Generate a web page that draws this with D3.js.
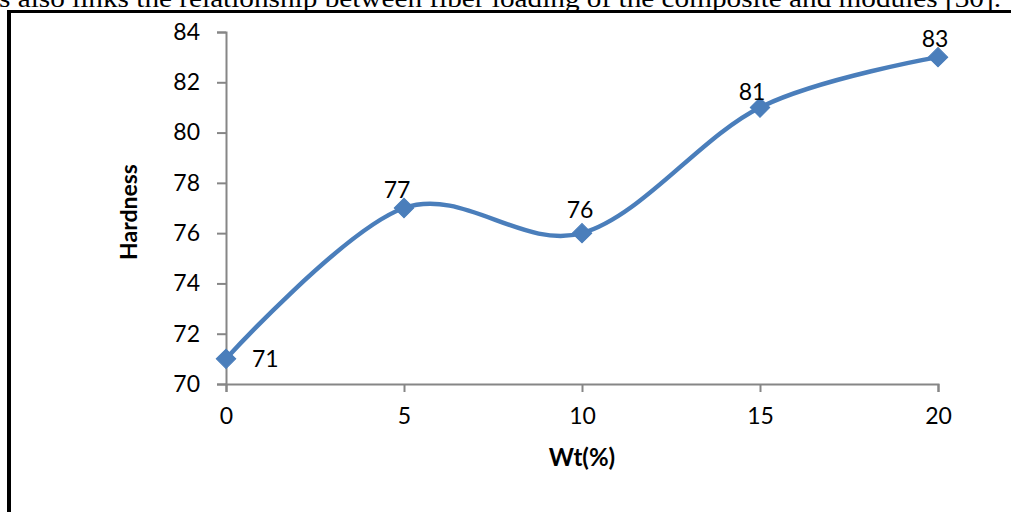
<!DOCTYPE html>
<html>
<head>
<meta charset="utf-8">
<script src="https://cdn.jsdelivr.net/npm/d3@7"></script>
<style>
  html, body { margin: 0; padding: 0; background: #fff; }
  svg { display: block; }
</style>
</head>
<body>
<svg id="chart" width="1011" height="512"></svg>
<script>
// Hardness against fibre weight fraction
const wtPercent = [0, 5, 10, 15, 20];
const hardness = [71, 77, 76, 81, 83];
const xTicks = [0, 5, 10, 15, 20];
const yTicks = [70, 72, 74, 76, 78, 80, 82, 84];
const xTitle = "Wt(%)";
const yTitle = "Hardness";
const bodyText = "s also links the relationship between fiber loading of the composite and modules [30].";

// label placement relative to each point: [dx, dy, anchor]
const labelPlacement = [
  [26, 8, "start"],
  [-7, -10, "middle"],
  [-2, -15, "middle"],
  [-8, -7, "middle"],
  [-3, -10, "middle"]
];

const svg = d3.select("#chart");
const font = "Lato, 'Open Sans', sans-serif";
const axisColor = "#868686";
const lineColor = "#4a7ebb";

// text line of the page above the figure
svg.append("text")
  .attr("x", -1).attr("y", 7)
  .attr("font-family", "'Liberation Serif', 'Times New Roman', serif")
  .attr("font-size", 25)
  .attr("textLength", 1002)
  .attr("lengthAdjust", "spacingAndGlyphs")
  .attr("fill", "#000")
  .text(bodyText);

// figure frame
svg.append("line").attr("x1", 7).attr("x2", 1011).attr("y1", 11.5).attr("y2", 11.5)
  .attr("stroke", "#000").attr("stroke-width", 3);
svg.append("line").attr("x1", 9).attr("x2", 9).attr("y1", 10).attr("y2", 512)
  .attr("stroke", "#000").attr("stroke-width", 4);

const x = d3.scaleLinear().domain([0, 20]).range([226, 938]);
const y = d3.scaleLinear().domain([70, 84]).range([384, 32]);

// y axis
const yAxis = svg.append("g")
  .attr("transform", `translate(${x(0)},0)`)
  .call(d3.axisLeft(y).tickValues(yTicks).tickSize(9).tickPadding(17).tickFormat(d3.format("d")));
// x axis
const xAxis = svg.append("g")
  .attr("transform", `translate(0,${y(70)})`)
  .call(d3.axisBottom(x).tickValues(xTicks).tickSize(8).tickPadding(16).tickFormat(d3.format("d")));

[yAxis, xAxis].forEach(g => {
  g.select(".domain").attr("stroke", axisColor).attr("stroke-width", 2);
  g.selectAll(".tick line").attr("stroke", axisColor).attr("stroke-width", 2);
  g.selectAll(".tick text")
    .attr("font-family", font).attr("font-size", 23).attr("fill", "#000");
});

// axis titles
svg.append("text")
  .attr("x", 582).attr("y", 466)
  .attr("text-anchor", "middle")
  .attr("font-family", font).attr("font-weight", "bold").attr("font-size", 24)
  .text(xTitle);
svg.append("text")
  .attr("transform", "translate(137,212) rotate(-90)")
  .attr("text-anchor", "middle")
  .attr("font-family", font).attr("font-weight", "bold").attr("font-size", 23)
  .text(yTitle);

// smoothed series line
const pts = wtPercent.map((w, i) => ({ w, h: hardness[i] }));
const line = d3.line()
  .x(d => x(d.w)).y(d => y(d.h))
  .curve(d3.curveCatmullRom.alpha(0));
svg.append("path")
  .datum(pts)
  .attr("d", line)
  .attr("fill", "none")
  .attr("stroke", lineColor)
  .attr("stroke-width", 4.5)
  .attr("stroke-linecap", "round");

// diamond markers
const diamond = d3.symbol().type(d3.symbolSquare).size(190);
svg.selectAll("path.marker")
  .data(pts)
  .join("path")
  .attr("class", "marker")
  .attr("d", diamond)
  .attr("transform", d => `translate(${x(d.w)},${y(d.h)}) rotate(45)`)
  .attr("fill", lineColor)
  .attr("stroke", lineColor)
  .attr("stroke-width", 1);

// data labels
svg.selectAll("text.value")
  .data(pts)
  .join("text")
  .attr("class", "value")
  .attr("x", (d, i) => x(d.w) + labelPlacement[i][0])
  .attr("y", (d, i) => y(d.h) + labelPlacement[i][1])
  .attr("text-anchor", (d, i) => labelPlacement[i][2])
  .attr("font-family", font).attr("font-size", 23).attr("fill", "#000")
  .text(d => d.h);
</script>
</body>
</html>
